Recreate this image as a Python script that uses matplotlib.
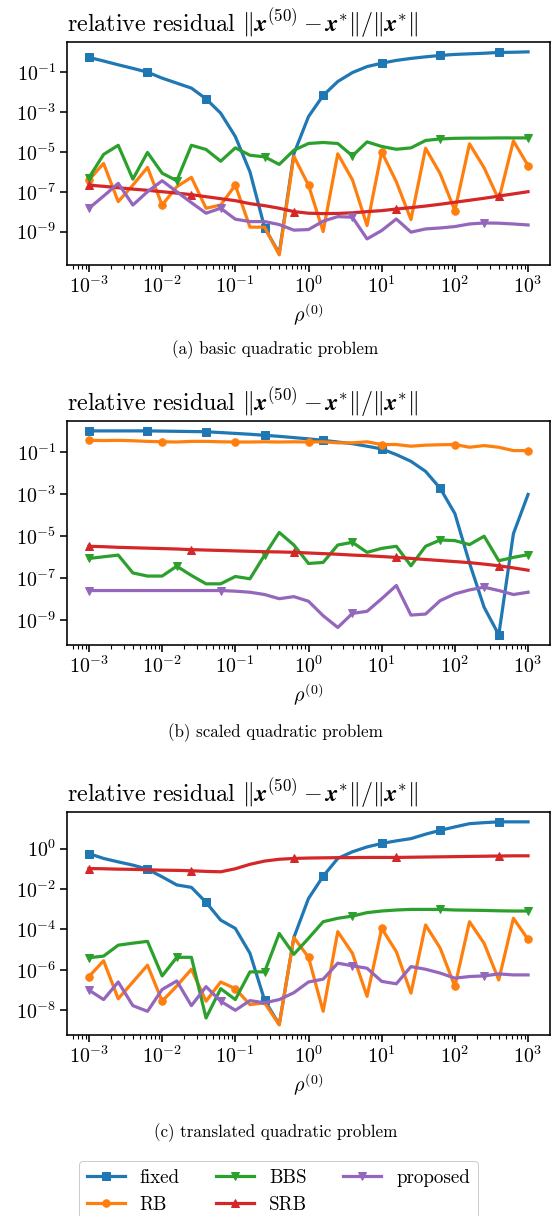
import numpy as np
import matplotlib
matplotlib.use("Agg")
import matplotlib.pyplot as plt
from matplotlib.ticker import NullLocator

plt.rcParams.update({
    "font.family": "serif",
    "font.serif": ["cmr10"],
    "mathtext.fontset": "cm",
    "axes.formatter.use_mathtext": True,
    "axes.unicode_minus": False,
    "axes.linewidth": 1.6,
    "xtick.major.width": 1.6, "ytick.major.width": 1.6,
    "xtick.minor.width": 1.1, "ytick.minor.width": 1.1,
    "xtick.major.size": 7, "ytick.major.size": 7,
    "xtick.minor.size": 4, "ytick.minor.size": 4,
    "xtick.labelsize": 20, "ytick.labelsize": 20,
})

# rho^(0) grid (log10)
rho_exp = [-3.0, -2.8, -2.6, -2.4, -2.2, -2.0, -1.8, -1.6, -1.4, -1.2, -1.0,
           -0.8, -0.6, -0.4, -0.2, 0.0, 0.2, 0.4, 0.6, 0.8, 1.0,
           1.2, 1.4, 1.6, 1.8, 2.0, 2.2, 2.4, 2.6, 2.8, 3.0]

# log10 of relative residual
# (a) basic quadratic problem
fixed_a = [-0.26, -0.44, -0.63, -0.81, -1.00, -1.30, -1.55, -1.80, -2.34, -3.06, -4.23,
           -6.00, -8.80, -10.10, -5.10, -3.23, -2.17, -1.47, -1.02, -0.72, -0.55,
           -0.41, -0.31, -0.23, -0.16, -0.11, -0.08, -0.05, -0.01, 0.00, 0.02]
rb_a = [-6.41, -5.58, -7.50, -6.67, -5.78, -7.67, -6.75, -6.28, -7.83, -7.67, -6.67,
        -8.78, -8.78, -10.17, -5.22, -6.67, -9.00, -5.10, -6.40, -8.70, -5.00,
        -6.50, -8.40, -4.82, -6.10, -7.95, -4.60, -5.80, -7.40, -4.45, -5.69]
bbs_a = [-6.30, -5.13, -4.67, -6.37, -5.03, -6.07, -6.45, -4.67, -4.88, -5.47, -4.80,
         -5.17, -5.25, -5.63, -4.92, -4.58, -4.53, -4.58, -5.20, -4.50, -4.73,
         -4.87, -4.80, -4.43, -4.35, -4.32, -4.31, -4.31, -4.30, -4.30, -4.30]
srb_a = [-6.67, -6.73, -6.80, -6.87, -6.93, -7.00, -7.07, -7.15, -7.25, -7.35, -7.45,
         -7.60, -7.70, -7.83, -8.00, -8.08, -8.10, -8.09, -8.06, -8.00, -7.95,
         -7.87, -7.80, -7.72, -7.63, -7.53, -7.43, -7.33, -7.22, -7.11, -7.00]
prop_a = [-7.83, -7.22, -6.58, -7.67, -7.00, -6.45, -7.00, -7.55, -8.08, -7.83, -8.38,
          -8.50, -8.50, -8.65, -8.93, -8.90, -8.48, -8.25, -8.28, -9.37, -8.95,
          -8.37, -9.03, -8.87, -8.82, -8.75, -8.62, -8.57, -8.58, -8.62, -8.67]

# (b) scaled quadratic problem
fixed_b = [0.00, 0.00, 0.00, 0.00, 0.00, -0.01, -0.02, -0.03, -0.04, -0.08, -0.12,
           -0.16, -0.21, -0.26, -0.32, -0.38, -0.45, -0.53, -0.61, -0.73, -0.86,
           -1.13, -1.45, -1.93, -2.74, -3.94, -6.30, -8.41, -9.72, -4.90, -3.03]
rb_b = [-0.45, -0.46, -0.45, -0.47, -0.50, -0.52, -0.53, -0.50, -0.50, -0.52, -0.53,
        -0.53, -0.52, -0.53, -0.52, -0.53, -0.52, -0.57, -0.57, -0.52, -0.65,
        -0.65, -0.73, -0.68, -0.66, -0.65, -0.78, -0.70, -0.78, -0.94, -0.94]
bbs_b = [-6.08, -6.00, -5.92, -6.77, -6.92, -6.92, -6.45, -6.89, -7.29, -7.29, -6.94,
         -7.05, -5.92, -4.84, -5.44, -6.32, -6.27, -5.44, -5.31, -5.79, -5.60,
         -5.50, -6.43, -5.50, -5.20, -5.23, -5.42, -5.02, -6.19, -6.03, -5.90]
srb_b = [-5.50, -5.52, -5.55, -5.57, -5.59, -5.61, -5.63, -5.66, -5.68, -5.70, -5.72,
         -5.74, -5.76, -5.77, -5.79, -5.82, -5.85, -5.88, -5.92, -5.95, -5.99,
         -6.03, -6.08, -6.13, -6.18, -6.23, -6.28, -6.35, -6.43, -6.53, -6.64]
prop_b = [-7.61, -7.61, -7.61, -7.61, -7.61, -7.61, -7.61, -7.61, -7.61, -7.61, -7.64,
          -7.69, -7.80, -8.00, -7.90, -8.12, -8.81, -9.37, -8.70, -8.60, -8.00,
          -7.37, -8.78, -8.73, -8.09, -7.77, -7.58, -7.45, -7.61, -7.80, -7.69]

# (c) translated quadratic problem
fixed_c = [-0.25, -0.49, -0.66, -0.82, -1.02, -1.40, -1.80, -1.92, -2.66, -3.54, -3.95,
           -5.18, -7.50, -8.70, -4.40, -2.47, -1.37, -0.49, -0.16, 0.08, 0.25,
           0.38, 0.49, 0.71, 0.90, 1.07, 1.23, 1.28, 1.32, 1.32, 1.32]
rb_c = [-6.33, -5.55, -7.43, -6.60, -5.77, -7.55, -6.80, -5.97, -7.55, -6.60, -6.93,
        -7.72, -7.63, -8.72, -4.40, -5.38, -8.05, -4.11, -5.18, -7.31, -3.95,
        -5.10, -7.15, -3.78, -4.93, -6.82, -3.62, -4.69, -6.50, -3.45, -4.49]
bbs_c = [-5.40, -5.32, -4.78, -4.68, -4.59, -6.30, -5.38, -5.38, -8.38, -6.93, -7.47,
         -6.10, -6.10, -4.20, -5.23, -4.44, -3.62, -3.45, -3.34, -3.17, -3.09,
         -3.04, -3.01, -3.01, -3.01, -3.04, -3.05, -3.06, -3.08, -3.09, -3.09]
srb_c = [-0.99, -1.00, -1.02, -1.03, -1.05, -1.07, -1.08, -1.10, -1.13, -1.15, -1.00,
         -0.78, -0.62, -0.53, -0.49, -0.47, -0.46, -0.45, -0.45, -0.44, -0.44,
         -0.44, -0.43, -0.42, -0.41, -0.40, -0.39, -0.38, -0.37, -0.36, -0.36]
prop_c = [-7.00, -7.47, -6.60, -7.77, -8.05, -6.97, -6.55, -7.77, -6.83, -7.55, -8.00,
          -7.52, -7.63, -7.47, -7.13, -6.60, -6.46, -5.67, -5.80, -5.92, -6.57,
          -6.69, -5.84, -5.97, -6.16, -6.41, -6.33, -6.30, -6.20, -6.25, -6.25]

methods = ["fixed", "RB", "BBS", "SRB", "proposed"]
colors = ["#1f77b4", "#ff7f0e", "#2ca02c", "#d62728", "#9467bd"]
markers = ["s", "o", "v", "^", "v"]
every = [4, 5, 6, 7, 9]

panels = [
    ([fixed_a, rb_a, bbs_a, srb_a, prop_a], "(a) basic quadratic problem", [-9, -7, -5, -3, -1]),
    ([fixed_b, rb_b, bbs_b, srb_b, prop_b], "(b) scaled quadratic problem", [-9, -7, -5, -3, -1]),
    ([fixed_c, rb_c, bbs_c, srb_c, prop_c], "(c) translated quadratic problem", [-8, -6, -4, -2, 0]),
]

W, H = 551, 1216
fig = plt.figure(figsize=(W / 72, H / 72), dpi=72)

ax_tops = [41.7, 420.7, 811.7]
ax_bots = [265.0, 645.0, 1035.0]
cap_y = [350, 733, 1133]
left, right = 67, 550

x = 10.0 ** np.array(rho_exp)
title = r"relative residual $\|\mathbfit{x}^{(50)}-\mathbfit{x}^{*}\|/\|\mathbfit{x}^{*}\|$"

handles = None
for k, (series, caption, yt) in enumerate(panels):
    ax = fig.add_axes([left / W, 1 - ax_bots[k] / H, (right - left) / W,
                       (ax_bots[k] - ax_tops[k]) / H])
    hs = []
    for s, name, c, m, ev in zip(series, methods, colors, markers, every):
        h, = ax.plot(x, 10.0 ** np.array(s), color=c, marker=m, markevery=ev,
                     lw=3.2, ms=7.5, label=name)
        hs.append(h)
    ax.set_xscale("log")
    ax.set_yscale("log")
    ylim = ax.get_ylim()
    ax.set_yticks([10.0 ** e for e in yt])
    ax.set_ylim(ylim)
    ax.yaxis.set_minor_locator(NullLocator())
    ax.set_xticks([10.0 ** e for e in range(-3, 4)])
    ax.set_title(title, loc="left", fontsize=24, pad=10)
    ax.set_xlabel(r"$\rho^{(0)}$", fontsize=20, labelpad=4)
    fig.text(0.5, 1 - cap_y[k] / H, caption, ha="center", va="center", fontsize=17)
    handles = hs

fig.legend(handles, methods, ncol=3, loc="upper left",
           bbox_to_anchor=(79 / W, 1 - 1161 / H), borderaxespad=0.0, fontsize=19,
           labelspacing=0.5, columnspacing=1.9, handlelength=2.0,
           handletextpad=0.8, borderpad=0.4, framealpha=1.0)

fig.savefig("out.png", dpi=72)
